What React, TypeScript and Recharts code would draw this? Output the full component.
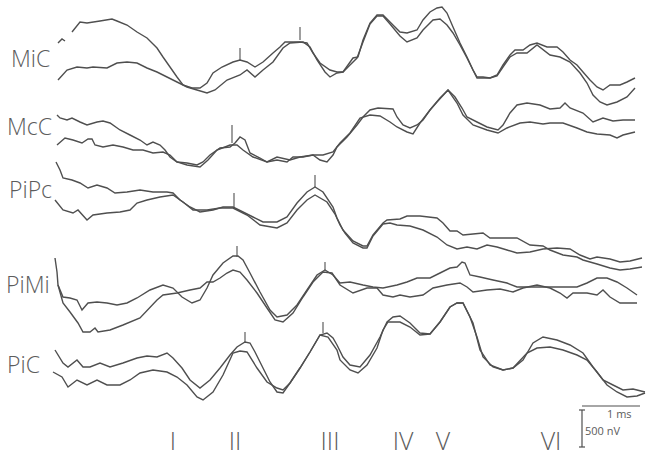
import React from "react";
import { LineChart, Line, XAxis, YAxis, ReferenceLine } from "recharts";

// Each trace: [time (chart units), amplitude position (chart units)] pairs
const miC_A: [number, number | null][] = [[58,43],[62,39],[65,41],[68,null],[72,32],[80,22],[87,23],[100,21],[112,19],[117,21],[127,25],[137,32],[147,38],[157,48],[163,57],[170,67],[177,77],[183,85],[192,88],[200,88],[207,83],[213,73],[222,67],[233,62],[240,60],[247,62],[255,67],[263,62],[273,53],[280,47],[285,42],[290,42],[300,42],[307,43],[313,53],[320,63],[330,70],[337,72],[343,72],[353,58],[358,57],[363,40],[370,23],[377,15],[383,15],[390,22],[400,32],[407,33],[417,30],[423,20],[430,12],[437,8],[442,7],[447,13],[453,27],[460,43],[467,57],[473,70],[477,77],[483,77],[490,78],[497,75],[503,65],[510,55],[515,50],[523,50],[530,45],[537,43],[547,47],[557,47],[563,52],[570,60],[577,65],[583,72],[590,80],[597,87],[603,90],[610,85],[620,85],[627,82],[635,78]];
const miC_B: [number, number | null][] = [[58,80],[67,70],[77,67],[87,68],[93,67],[107,68],[117,63],[127,62],[137,63],[147,68],[157,72],[167,77],[177,82],[187,87],[197,90],[207,93],[215,90],[227,80],[240,75],[247,70],[255,77],[263,70],[273,62],[283,48],[290,43],[303,42],[310,47],[317,60],[325,72],[330,77],[337,73],[343,72],[350,65],[357,58],[363,42],[370,24],[377,16],[383,16],[390,24],[400,36],[407,42],[417,38],[423,30],[433,20],[440,19],[447,25],[453,33],[460,45],[467,58],[473,70],[477,78],[490,78],[497,76],[503,67],[510,57],[517,53],[527,53],[537,45],[550,55],[560,57],[570,62],[580,73],[587,83],[593,95],[600,102],[607,105],[617,102],[627,97],[635,88]];

const mcC_A: [number, number | null][] = [[57,115],[60,118],[67,120],[72,118],[80,122],[87,125],[97,122],[103,121],[110,123],[120,130],[130,135],[140,140],[147,145],[153,142],[160,145],[165,150],[170,157],[177,162],[187,163],[197,165],[203,162],[210,155],[220,148],[230,147],[235,143],[240,137],[245,140],[250,153],[260,158],[267,162],[277,160],[287,162],[293,157],[303,157],[313,155],[320,160],[327,162],[333,155],[337,147],[347,137],[357,125],[363,117],[370,110],[378,108],[393,109],[397,117],[403,125],[410,128],[417,125],[423,120],[430,110],[440,98],[448,90],[455,97],[462,108],[467,117],[477,122],[487,127],[498,130],[503,125],[510,113],[517,105],[527,103],[540,105],[550,109],[560,108],[565,103],[570,108],[583,113],[593,122],[603,118],[613,121],[623,120],[635,120]];
const mcC_B: [number, number | null][] = [[57,145],[65,138],[73,140],[82,143],[88,139],[92,139],[95,145],[103,147],[113,145],[123,147],[133,150],[143,150],[153,153],[163,152],[170,155],[177,162],[187,165],[200,167],[208,160],[217,150],[230,145],[237,145],[243,150],[253,157],[267,162],[277,157],[290,160],[300,157],[313,155],[323,155],[333,152],[340,143],[350,133],[360,118],[370,115],[380,116],[390,122],[397,127],[407,132],[413,134],[420,123],[430,110],[437,102],[448,90],[457,103],[463,115],[473,125],[487,130],[498,133],[507,128],[520,123],[530,122],[543,124],[550,123],[563,123],[577,128],[587,132],[597,134],[610,135],[617,138],[623,135],[635,132]];

const piPc_A: [number, number | null][] = [[56,162],[60,170],[63,178],[72,180],[80,183],[88,188],[97,185],[107,188],[115,193],[127,192],[140,190],[153,192],[167,192],[173,193],[180,200],[190,207],[200,212],[213,210],[223,207],[233,207],[243,212],[253,217],[263,222],[277,222],[287,217],[297,203],[307,192],[315,187],[323,192],[333,207],[337,218],[343,230],[353,241],[363,246],[367,246],[373,235],[383,223],[387,220],[400,219],[407,216],[420,216],[437,218],[443,223],[450,231],[457,231],[463,235],[473,234],[483,233],[490,238],[503,238],[517,238],[530,245],[543,246],[550,250],[563,255],[577,257],[583,260],[597,264],[610,268],[620,270],[630,269],[642,267]];
const piPc_B: [number, number | null][] = [[55,200],[63,210],[73,213],[78,210],[87,220],[93,215],[107,213],[120,212],[130,210],[137,203],[147,200],[160,197],[173,195],[183,202],[193,210],[207,210],[220,208],[233,208],[247,215],[260,225],[277,228],[287,223],[297,210],[307,200],[315,195],[327,202],[335,214],[340,225],[345,233],[353,243],[363,248],[367,248],[373,236],[383,224],[390,223],[397,225],[410,226],[423,230],[437,237],[447,245],[457,249],[467,247],[477,249],[487,245],[497,247],[507,250],[517,253],[530,252],[543,249],[557,248],[570,249],[580,255],[590,259],[597,257],[610,259],[620,262],[630,261],[642,258]];

const piMi_A: [number, number | null][] = [[55,258],[57,272],[58,285],[63,297],[70,298],[77,300],[82,310],[88,303],[97,302],[107,303],[117,305],[127,303],[137,298],[150,290],[163,285],[173,288],[182,297],[192,303],[200,300],[207,288],[213,275],[223,263],[233,256],[238,256],[243,260],[250,273],[260,292],[270,310],[277,317],[287,315],[297,305],[307,290],[317,275],[325,270],[333,275],[340,283],[350,282],[363,285],[373,287],[383,288],[397,285],[407,282],[417,278],[430,278],[440,273],[450,268],[457,267],[462,262],[465,263],[470,275],[480,277],[493,280],[507,283],[517,287],[530,287],[550,287],[563,287],[577,287],[587,283],[597,278],[607,278],[617,282],[627,288],[637,295]];
const piMi_B: [number, number | null][] = [[58,285],[63,303],[70,312],[78,323],[83,332],[90,332],[95,328],[98,332],[110,330],[123,325],[140,318],[157,300],[163,295],[177,293],[190,290],[200,288],[207,282],[213,282],[220,278],[227,273],[233,270],[240,272],[247,280],[257,293],[267,308],[275,320],[283,322],[293,313],[303,297],[313,282],[323,272],[332,273],[340,285],[353,293],[367,288],[377,288],[383,295],[393,297],[400,295],[410,297],[423,295],[433,288],[447,285],[460,283],[467,287],[473,292],[487,290],[500,289],[513,292],[523,288],[537,285],[550,288],[560,293],[567,298],[573,293],[587,293],[597,295],[603,290],[610,297],[620,303],[637,303]];

const piC_A: [number, number | null][] = [[55,350],[63,363],[68,367],[77,360],[83,367],[90,367],[100,363],[110,367],[123,363],[137,358],[147,356],[157,357],[167,353],[173,358],[182,368],[190,380],[200,388],[210,380],[220,368],[230,355],[237,347],[245,342],[250,343],[255,352],[263,368],[270,382],[277,392],[283,393],[290,383],[300,368],[310,352],[320,335],[327,333],[333,338],[337,345],[343,357],[350,365],[360,367],[370,355],[380,337],[387,322],[393,317],[400,316],[410,323],[420,333],[430,334],[440,322],[450,307],[457,303],[463,303],[470,317],[477,337],[483,357],[493,367],[503,370],[513,368],[523,360],[533,343],[543,337],[557,340],[570,345],[583,353],[593,367],[603,380],[613,385],[623,390],[633,389],[645,392]];
const piC_B: [number, number | null][] = [[53,372],[62,377],[68,387],[77,380],[87,385],[97,380],[107,385],[120,385],[130,380],[140,373],[153,370],[167,372],[177,377],[187,385],[197,397],[203,400],[213,392],[223,375],[233,353],[240,351],[247,352],[257,368],[267,382],[277,388],[283,390],[290,383],[300,368],[310,352],[320,335],[328,337],[337,350],[340,360],[350,370],[358,373],[367,365],[377,348],[383,330],[388,322],[400,322],[410,327],[420,335],[430,334],[440,322],[450,307],[457,303],[463,303],[473,323],[480,350],[490,365],[503,370],[513,368],[527,353],[537,348],[550,347],[563,350],[577,355],[587,360],[597,372],[607,385],[617,392],[627,397],[637,396],[645,393]];

// Peak markers: [time, from, to]
const peakMarks: [number, number, number][] = [[240,48,60],[300,27,40],[232,125,143],[234,193,207],[315,175,187],[237,246,257],[325,262,270],[245,332,342],[323,322,333]];

const channelLabels = ["MiC", "McC", "PiPc", "PiMi", "PiC"];
const channelLabelPos: [number, number][] = [[11,67],[7,135],[9,198],[6,293],[7,373]];
const waveLabels = ["I", "II", "III", "IV", "V", "VI"];
const waveLabelX = [173, 235, 330, 403, 443, 551];

const traces = [miC_A, miC_B, mcC_A, mcC_B, piPc_A, piPc_B, piMi_A, piMi_B, piC_A, piC_B];
const toRows = (arr: [number, number | null][]) => arr.map(([t, v]) => ({ t, v }));

const W = 649;
const H = 457;
const INK = "#4f4f4f";
const TEXT = "#5c5c5c";
const FONT = "'Open Sans', sans-serif";

export default function App() {
  return (
    <div style={{ position: "relative", width: W, height: H, background: "#fff" }}>
      <style>{`body{margin:0;background:#fff}`}</style>
      <LineChart width={W} height={H} margin={{ top: 0, right: 0, bottom: 0, left: 0 }}>
        <XAxis type="number" dataKey="t" domain={[0, W]} hide allowDataOverflow />
        <YAxis type="number" domain={[0, H]} reversed hide allowDataOverflow />
        {traces.map((tr, i) => (
          <Line
            key={i}
            data={toRows(tr)}
            dataKey="v"
            type="linear"
            stroke={INK}
            strokeWidth={1.4}
            dot={false}
            activeDot={false}
            connectNulls={false}
            isAnimationActive={false}
          />
        ))}
        {peakMarks.map(([t, a, b], i) => (
          <ReferenceLine key={"pm" + i} segment={[{ x: t, y: a }, { x: t, y: b }]} stroke={INK} strokeWidth={1.1} />
        ))}
        <ReferenceLine segment={[{ x: 582, y: 406 }, { x: 640, y: 406 }]} stroke={INK} strokeWidth={1.2} />
        <ReferenceLine segment={[{ x: 582, y: 410 }, { x: 582, y: 447 }]} stroke={INK} strokeWidth={1.2} />
        <ReferenceLine segment={[{ x: 579, y: 410 }, { x: 585, y: 410 }]} stroke={INK} strokeWidth={1.2} />
        <ReferenceLine segment={[{ x: 579, y: 447 }, { x: 585, y: 447 }]} stroke={INK} strokeWidth={1.2} />
      </LineChart>
      <svg width={W} height={H} style={{ position: "absolute", left: 0, top: 0, pointerEvents: "none" }}>
        {channelLabels.map((s, i) => (
          <text key={s} x={channelLabelPos[i][0]} y={channelLabelPos[i][1]} fontFamily={FONT} fontWeight={300} fontSize={23} fill={TEXT}>
            {s}
          </text>
        ))}
        {waveLabels.map((s, i) => (
          <text key={s} x={waveLabelX[i]} y={450} textAnchor="middle" fontFamily={FONT} fontWeight={300} fontSize={25} fill={TEXT}>
            {s}
          </text>
        ))}
        <text x={607} y={418} fontFamily={FONT} fontSize={11} fill={TEXT}>1 ms</text>
        <text x={585} y={435} fontFamily={FONT} fontSize={11} fill={TEXT}>500 nV</text>
      </svg>
    </div>
  );
}
